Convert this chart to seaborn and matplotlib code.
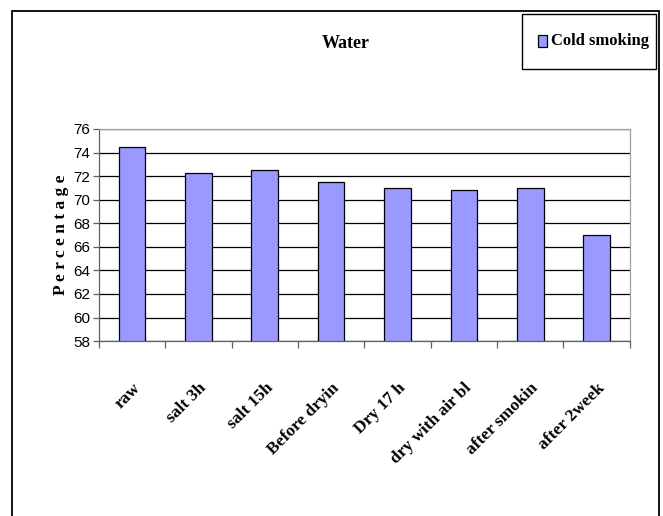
import matplotlib
matplotlib.use("Agg")
import matplotlib.pyplot as plt
import matplotlib.transforms as mtransforms
import seaborn as sns
import pandas as pd
from matplotlib.patches import Rectangle

categories = ["raw", "salt 3h", "salt 15h", "Before dryin", "Dry 17 h",
              "dry with air bl", "after smokin", "after 2week"]
values = [74.5, 72.3, 72.5, 71.5, 71.0, 70.85, 71.0, 67.0]
series_name = "Cold smoking"
yticks = [58, 60, 62, 64, 66, 68, 70, 72, 74, 76]

sns.set_theme(style="white")
plt.rcParams["text.color"] = "black"
plt.rcParams["xtick.color"] = "black"
plt.rcParams["ytick.color"] = "black"
plt.rcParams["axes.labelcolor"] = "black"
serif = ["Liberation Serif", "DejaVu Serif"]
sans = ["Liberation Sans", "DejaVu Sans"]

df = pd.DataFrame({"cat": categories, "val": values, "series": series_name})

fig = plt.figure(figsize=(6.63, 5.16), dpi=100)
ax = fig.add_axes([0.149, 0.339, 0.801, 0.411])

sns.barplot(data=df, x="cat", y="val", hue="series", palette=["#9999FF"],
            saturation=1, width=0.4, edgecolor="black", linewidth=0.9,
            ax=ax, legend=False)

ax.set_ylim(58, 76)
ax.set_xlim(-0.5, len(categories) - 0.5)
ax.set_yticks(yticks)
ax.set_yticklabels([str(t) for t in yticks], family=sans, fontsize=11,
                   color="black")
ax.yaxis.grid(True, color="black", linewidth=0.9)
ax.set_axisbelow(True)
for s in ["top", "right"]:
    ax.spines[s].set_color("#a0a0a0")
    ax.spines[s].set_linewidth(0.9)
for s in ["left", "bottom"]:
    ax.spines[s].set_color("#606060")
    ax.spines[s].set_linewidth(0.9)

ax.set_xticks(range(len(categories)))
ax.set_xticklabels(categories, rotation=45, ha="right", va="top",
                   rotation_mode="anchor", family=serif, fontweight="bold",
                   fontsize=12.5, color="black")
shift = mtransforms.ScaledTranslation(-6 / 100, 0, fig.dpi_scale_trans)
for lab in ax.get_xticklabels():
    lab.set_transform(lab.get_transform() + shift)
ax.tick_params(axis="x", which="major", length=0, pad=28)
ax.set_xticks([i - 0.5 for i in range(len(categories) + 1)], minor=True)
ax.tick_params(axis="x", which="minor", length=5, direction="out",
               color="#606060", width=0.9, bottom=True)
ax.tick_params(axis="y", length=4, direction="out", color="#606060",
               width=0.9, left=True, pad=2)

ax.set_xlabel("")
ax.set_ylabel("P e r c e n t a g e", family=serif, fontweight="bold",
              fontsize=12.5, labelpad=3, color="black")

fig.text(346 / 663, 1 - 44 / 516, "Water", ha="center", va="center",
         family=serif, fontweight="bold", fontsize=13, color="black")

# outer frame
fig.patches.append(Rectangle((12 / 663, -0.05), 647 / 663, 1 - 11 / 516 + 0.05,
                             transform=fig.transFigure, fill=False,
                             edgecolor="black", linewidth=1.3))
# legend box
fig.patches.append(Rectangle((522 / 663, 1 - 69 / 516), 134 / 663, 55 / 516,
                             transform=fig.transFigure, fill=False,
                             edgecolor="black", linewidth=1.0))
fig.patches.append(Rectangle((538 / 663, 1 - 47 / 516), 9 / 663, 12 / 516,
                             transform=fig.transFigure, facecolor="#9999FF",
                             edgecolor="black", linewidth=0.9))
fig.text(551 / 663, 1 - 41 / 516, series_name, ha="left", va="center",
         family=serif, fontweight="bold", fontsize=12, color="black")

fig.savefig("out.png", dpi=100)
